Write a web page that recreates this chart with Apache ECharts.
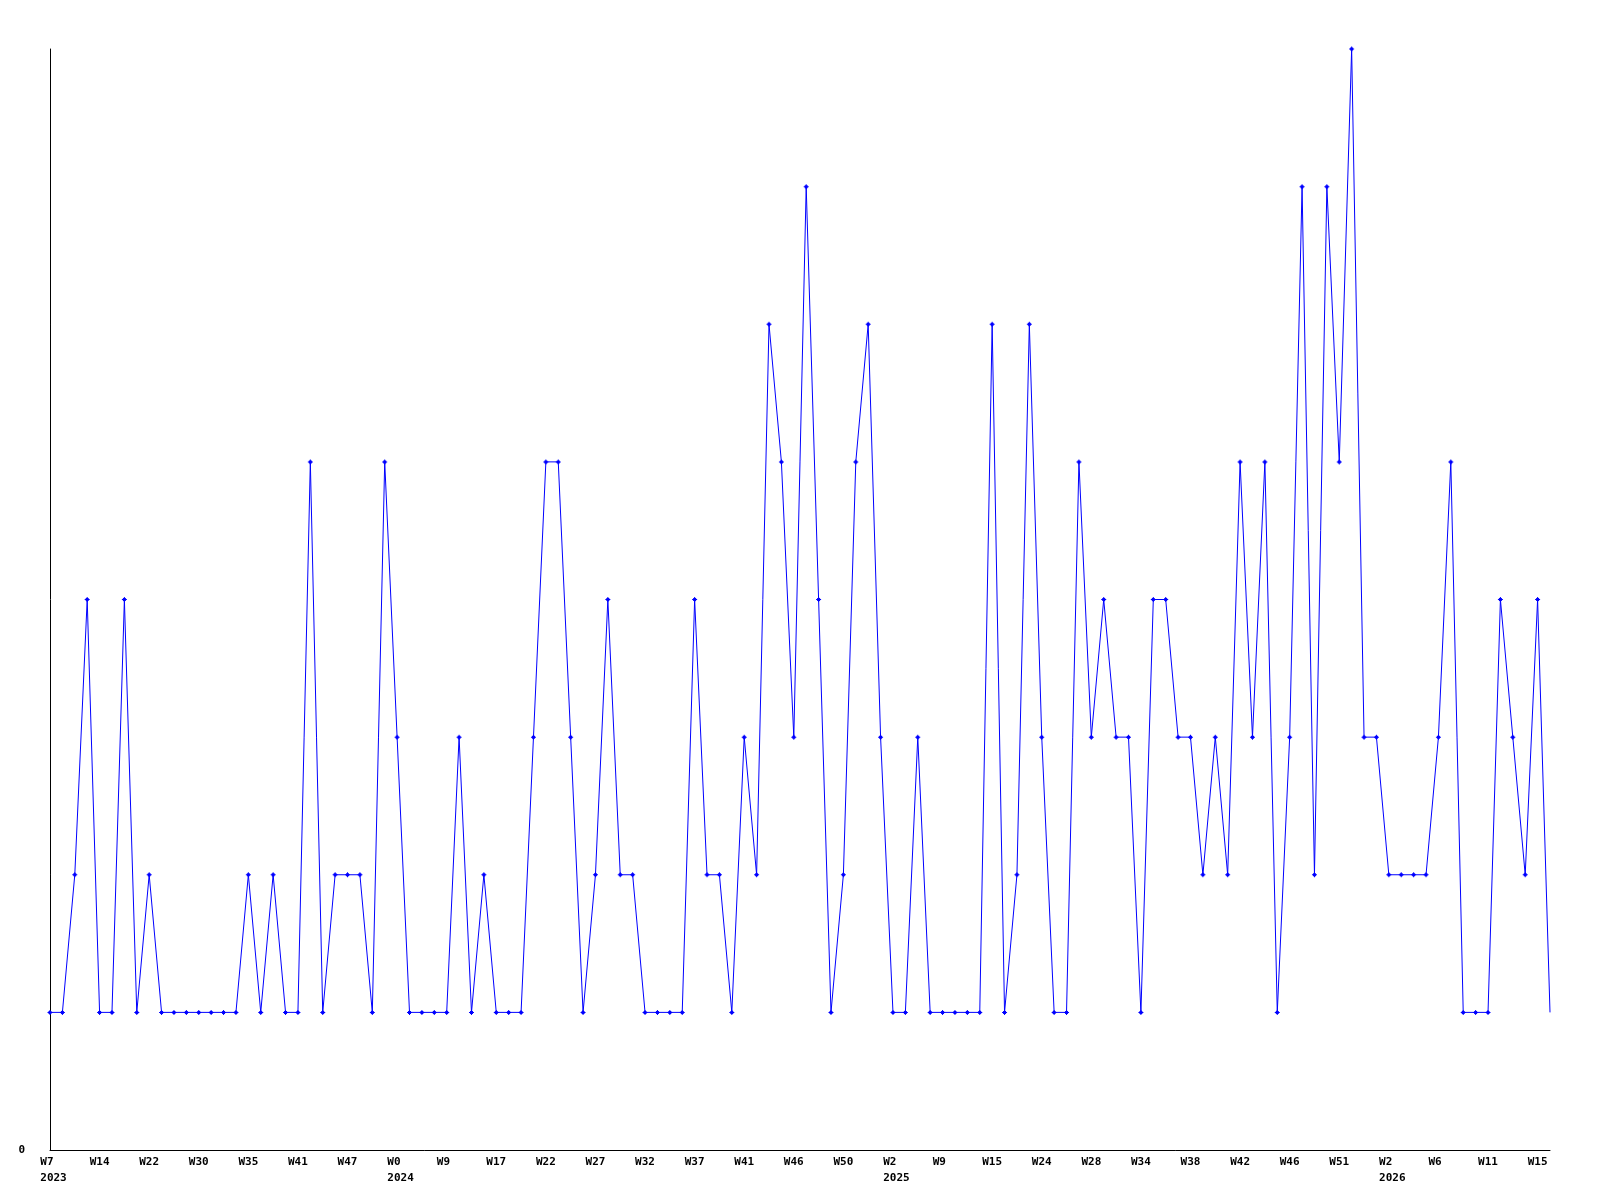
<!DOCTYPE html>
<html>
<head>
<meta charset="utf-8">
<script src="https://cdn.jsdelivr.net/npm/echarts@6/dist/echarts.min.js"></script>
<style>
html,body{margin:0;padding:0;background:#fff;}
#chart{width:1600px;height:1200px;}
</style>
</head>
<body>
<div id="chart"></div>
<script>
// Values per data point (122 weekly points, weeks without data skipped)
const values = [
  1,1,2,4,1,1,4,1,2,1,
  1,1,1,1,1,1,2,1,2,1,
  1,5,1,2,2,2,1,5,3,1,
  1,1,1,3,1,2,1,1,1,3,
  5,5,3,1,2,4,2,2,1,1,
  1,1,4,2,2,1,3,2,6,5,
  3,7,4,1,2,5,6,3,1,1,
  3,1,1,1,1,1,6,1,2,6,
  3,1,1,5,3,4,3,3,1,4,
  4,3,3,2,3,2,5,3,5,1,
  3,7,2,7,5,8,3,3,2,2,
  2,2,3,5,1,1,1,4,3,2,
  4,1
];
// Tick labels, one every 4th point
const tickLabels = [
  "W7\n2023","W14","W22","W30","W35","W41","W47",
  "W0\n2024","W9","W17","W22","W27","W32","W37","W41","W46","W50",
  "W2\n2025","W9","W15","W24","W28","W34","W38","W42","W46","W51",
  "W2\n2026","W6","W11","W15"
];
const tickEvery = 4;
const categories = values.map((v, i) => String(i));
const yMin = 0, yMax = 8;

const seriesData = values.map((v, i) => i === values.length - 1 ? {value: v, symbol: 'none'} : v);

// Labels in the reference are left-aligned text starting ~1.5 characters left of the tick.
function padLabel(s) {
  const lines = s.split('\n');
  if (lines.length > 1) {
    return lines.map(l => '{m|' + l + '\u00a0'.repeat(Math.max(0, 4 - l.length)) + '}').join('\n');
  }
  return s + '\u00a0'.repeat(Math.max(0, 3 - s.length));
}

const chart = echarts.init(document.getElementById('chart'), null, {renderer: 'canvas'});
const font = '"DejaVu Sans Mono", monospace';
chart.setOption({
  animation: false,
  backgroundColor: '#ffffff',
  grid: {left: 50, right: 50, top: 49, bottom: 50, containLabel: false},
  xAxis: {
    type: 'category',
    data: categories,
    boundaryGap: false,
    axisLine: {show: true, lineStyle: {color: '#000', width: 1}},
    axisTick: {show: false},
    splitLine: {show: false},
    axisLabel: {
      interval: tickEvery - 1,
      margin: 4,
      color: '#000',
      fontFamily: font,
      fontWeight: 'bold',
      fontSize: 11,
      lineHeight: 16,
      formatter: (val, idx) => (idx % tickEvery === 0 ? padLabel(tickLabels[idx / tickEvery] || '') : ''),
      rich: {
        m: {fontFamily: font, fontWeight: 'bold', fontSize: 11, color: '#000', lineHeight: 16, padding: [0, 0, 0, 7]}
      }
    }
  },
  yAxis: {
    type: 'value',
    min: yMin,
    max: yMax,
    interval: 1,
    axisLine: {show: true, lineStyle: {color: '#000', width: 1}},
    axisTick: {show: false},
    splitLine: {show: false},
    axisLabel: {
      margin: 25,
      color: '#000',
      fontFamily: font,
      fontWeight: 'bold',
      fontSize: 11,
      formatter: v => (v === 0 ? '0' : '')
    }
  },
  series: [{
    type: 'line',
    data: seriesData,
    showAllSymbol: true,
    symbol: 'path://M2,0H3V1H4V2H5V3H4V4H3V5H2V4H1V3H0V2H1V1H2Z',
    symbolSize: 5,
    itemStyle: {color: '#0000ff'},
    lineStyle: {color: '#0000ff', width: 1},
    emphasis: {disabled: true}
  }]
});
</script>
</body>
</html>
